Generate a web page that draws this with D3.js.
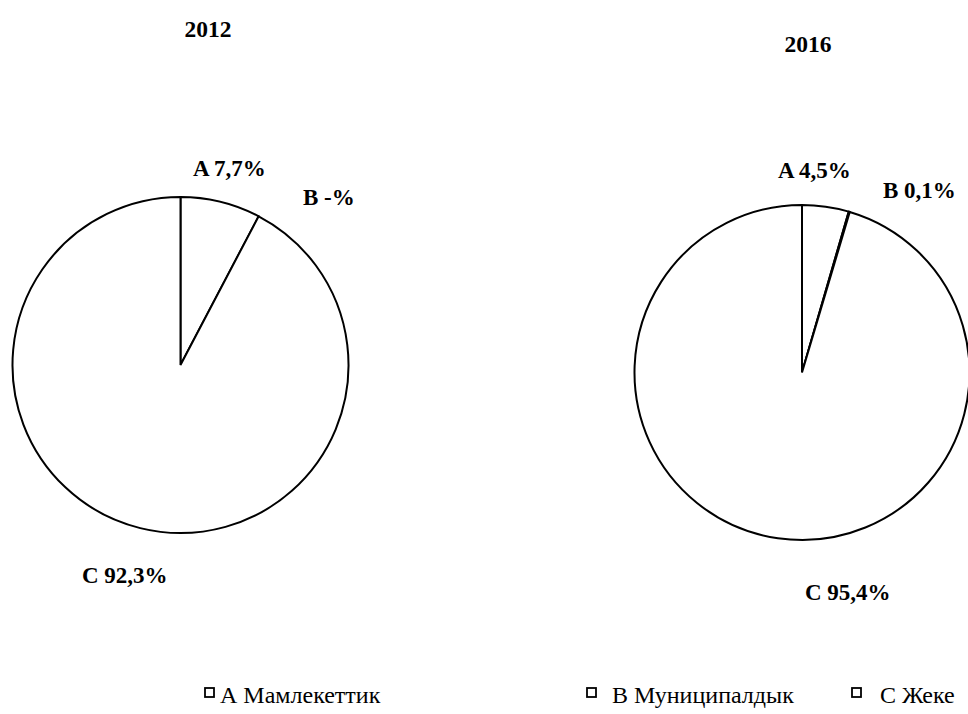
<!DOCTYPE html>
<html>
<head>
<meta charset="utf-8">
<script src="https://cdn.jsdelivr.net/npm/d3@7"></script>
<style>
html,body{margin:0;padding:0;background:#fff;}
svg{display:block;}
</style>
</head>
<body>
<div id="chart"></div>
<script>
const categories = ["A", "B", "C"];
const legendLabels = ["А Мамлекеттик", "В Муниципалдык", "С Жеке"];
const years = ["2012", "2016"];
const values2012 = [7.7, 0, 92.3];
const values2016 = [4.5, 0.1, 95.4];
const labels2012 = ["A 7,7%", "B -%", "C 92,3%"];
const labels2016 = ["A 4,5%", "B 0,1%", "C 95,4%"];

const FONT = "'Liberation Serif', 'Times New Roman', 'DejaVu Serif', serif";
const W = 968, H = 714;
const svg = d3.select("#chart").append("svg").attr("width", W).attr("height", H)
  .style("font-family", FONT);

const pies = [
  {year: years[0], values: values2012, labels: labels2012, cx: 180.5, cy: 365, r: 168,
   titlePos: [208, 37],
   labelPos: [[193, 176], [303, 205], [82, 583]]},
  {year: years[1], values: values2016, labels: labels2016, cx: 802, cy: 372.5, r: 167.5,
   titlePos: [808, 52],
   labelPos: [[778, 178], [883, 198], [805, 600]]}
];

const pie = d3.pie().sort(null).value(d => d);

pies.forEach(p => {
  const g = svg.append("g").attr("transform", `translate(${p.cx},${p.cy})`);
  const arc = d3.arc().innerRadius(0).outerRadius(p.r);
  g.selectAll("path")
    .data(pie(p.values).filter(d => d.data > 0))
    .join("path")
    .attr("d", arc)
    .attr("fill", "#fff")
    .attr("stroke", "#000")
    .attr("stroke-width", 2)
    .attr("stroke-linejoin", "miter");

  svg.append("text")
    .attr("x", p.titlePos[0]).attr("y", p.titlePos[1])
    .attr("text-anchor", "middle")
    .attr("font-family", FONT)
    .attr("font-weight", "bold")
    .attr("font-size", 23.5)
    .text(p.year);

  p.labels.forEach((t, i) => {
    svg.append("text")
      .attr("x", p.labelPos[i][0]).attr("y", p.labelPos[i][1])
      .attr("font-family", FONT)
      .attr("font-weight", "bold")
      .attr("font-size", 23)
      .text(t);
  });
});

// legend
const legendItems = [
  {box: 205, text: 220},
  {box: 587, text: 612},
  {box: 852, text: 880}
];
legendItems.forEach((it, i) => {
  svg.append("rect")
    .attr("x", it.box).attr("y", 688)
    .attr("width", 9).attr("height", 9)
    .attr("fill", "#fff").attr("stroke", "#000").attr("stroke-width", 1.8);
  svg.append("text")
    .attr("x", it.text).attr("y", 703)
    .attr("font-family", FONT)
    .attr("font-size", 24)
    .text(legendLabels[i]);
});
</script>
</body>
</html>
